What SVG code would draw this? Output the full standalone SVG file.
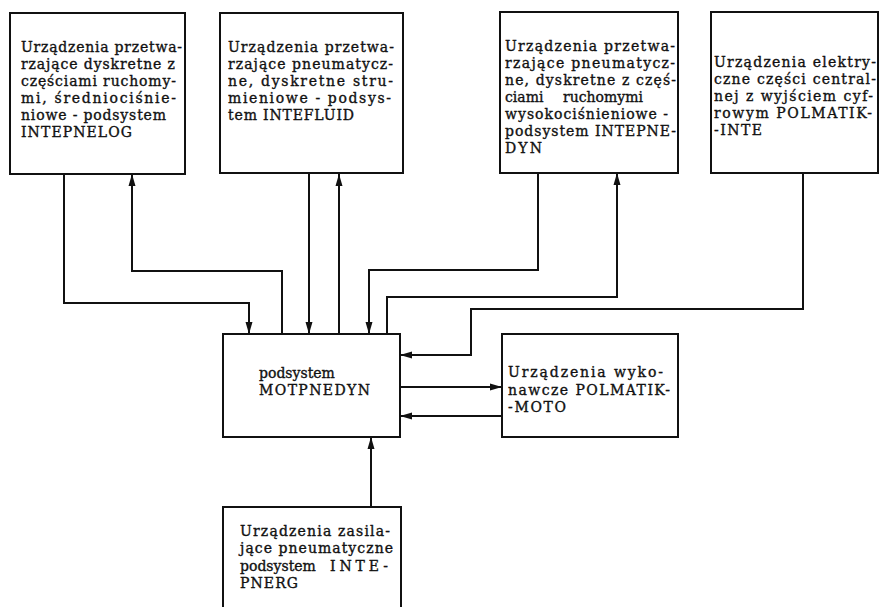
<svg xmlns="http://www.w3.org/2000/svg" width="880" height="607" viewBox="0 0 880 607">
<style>
.box{fill:#fff;stroke:#111;stroke-width:2}
.t{font-family:"DejaVu Serif","Liberation Serif",serif;font-size:14px;fill:#111;stroke:#111;stroke-width:0.35}
.c{fill:none;stroke:#111;stroke-width:2}
.a{marker-end:url(#arr)}
</style>
<defs>
<marker id="arr" viewBox="0 0 12 8" refX="12" refY="4" markerWidth="12" markerHeight="8" markerUnits="userSpaceOnUse" orient="auto">
<path d="M0,0.5 L12,4 L0,7.5 z" fill="#111"/>
</marker>
</defs>
<rect width="880" height="607" fill="#fff"/>
<g id="connectors">
<path class="c a" d="M64,174 V303 H249 V334"/>
<path class="c a" d="M282,334 V271 H132 V174"/>
<path class="c a" d="M309,174 V334"/>
<path class="c a" d="M339,334 V174"/>
<path class="c a" d="M538,173 V270 H369 V334"/>
<path class="c a" d="M387,334 V297 H617 V173"/>
<path class="c a" d="M803,173 V309 H471 V355 H400"/>
<path class="c a" d="M400,387 H502"/>
<path class="c a" d="M502,416 H400"/>
<path class="c a" d="M371,507 V437"/>
</g>
<g id="intepnelog">
<rect class="box" x="10" y="13" width="175" height="161"/>
<g class="t">
<text x="21" y="52" textLength="161" lengthAdjust="spacing">Urządzenia przetwa-</text>
<text x="21" y="69" textLength="154" lengthAdjust="spacing">rzające dyskretne z</text>
<text x="21" y="86" textLength="155" lengthAdjust="spacing">częściami ruchomy-</text>
<text x="21" y="103" textLength="155" lengthAdjust="spacing">mi, średniociśnie-</text>
<text x="21" y="120" textLength="145" lengthAdjust="spacing">niowe - podsystem</text>
<text x="21" y="137" textLength="111" lengthAdjust="spacing">INTEPNELOG</text>
</g>
</g>
<g id="intefluid">
<rect class="box" x="220" y="13" width="183" height="160"/>
<g class="t">
<text x="228" y="52" textLength="166" lengthAdjust="spacing">Urządzenia przetwa-</text>
<text x="228" y="69" textLength="165" lengthAdjust="spacing">rzające pneumatycz-</text>
<text x="228" y="86" textLength="165" lengthAdjust="spacing">ne, dyskretne stru-</text>
<text x="228" y="103" textLength="163" lengthAdjust="spacing">mieniowe - podsys-</text>
<text x="228" y="120" textLength="126" lengthAdjust="spacing">tem INTEFLUID</text>
</g>
</g>
<g id="intepnedyn">
<rect class="box" x="500" y="12" width="178" height="161"/>
<g class="t">
<text x="505" y="51" textLength="170" lengthAdjust="spacing">Urządzenia przetwa-</text>
<text x="505" y="68" textLength="170" lengthAdjust="spacing">rzające pneumatycz-</text>
<text x="505" y="85" textLength="171" lengthAdjust="spacing">ne, dyskretne z częś-</text>
<text x="505" y="102">ciami</text>
<text x="563" y="102">ruchomymi</text>
<text x="505" y="119" textLength="163" lengthAdjust="spacing">wysokociśnieniowe -</text>
<text x="505" y="136" textLength="171" lengthAdjust="spacing">podsystem INTEPNE-</text>
<text x="505" y="153" textLength="37" lengthAdjust="spacing">DYN</text>
</g>
</g>
<g id="polmatik-inte">
<rect class="box" x="711" y="12" width="167" height="161"/>
<g class="t">
<text x="714" y="67" textLength="162" lengthAdjust="spacing">Urządzenia elektry-</text>
<text x="714" y="84" textLength="162" lengthAdjust="spacing">czne części central-</text>
<text x="714" y="101" textLength="159" lengthAdjust="spacing">nej z wyjściem cyf-</text>
<text x="714" y="118" textLength="158" lengthAdjust="spacing">rowym POLMATIK-</text>
<text x="714" y="135" textLength="48" lengthAdjust="spacing">-INTE</text>
</g>
</g>
<g id="motpnedyn">
<rect class="box" x="223" y="334" width="177" height="103"/>
<g class="t">
<text x="259" y="378">podsystem</text>
<text x="259" y="395" textLength="111" lengthAdjust="spacing">MOTPNEDYN</text>
</g>
</g>
<g id="polmatik-moto">
<rect class="box" x="502" y="334" width="176" height="103"/>
<g class="t">
<text x="508" y="377" textLength="155" lengthAdjust="spacing">Urządzenia wyko-</text>
<text x="508" y="394.5" textLength="162" lengthAdjust="spacing">nawcze POLMATIK-</text>
<text x="508" y="412" textLength="58" lengthAdjust="spacing">-MOTO</text>
</g>
</g>
<g id="intepnerg">
<path class="box" d="M223,608 V507 H401 V608"/>
<g class="t">
<text x="240" y="536" textLength="150" lengthAdjust="spacing">Urządzenia zasila-</text>
<text x="240" y="553" textLength="153" lengthAdjust="spacing">jące pneumatyczne</text>
<text x="240" y="570.5">podsystem</text>
<text x="330" y="570.5" textLength="58" lengthAdjust="spacing">INTE-</text>
<text x="240" y="588" textLength="58" lengthAdjust="spacing">PNERG</text>
</g>
</g>
</svg>
